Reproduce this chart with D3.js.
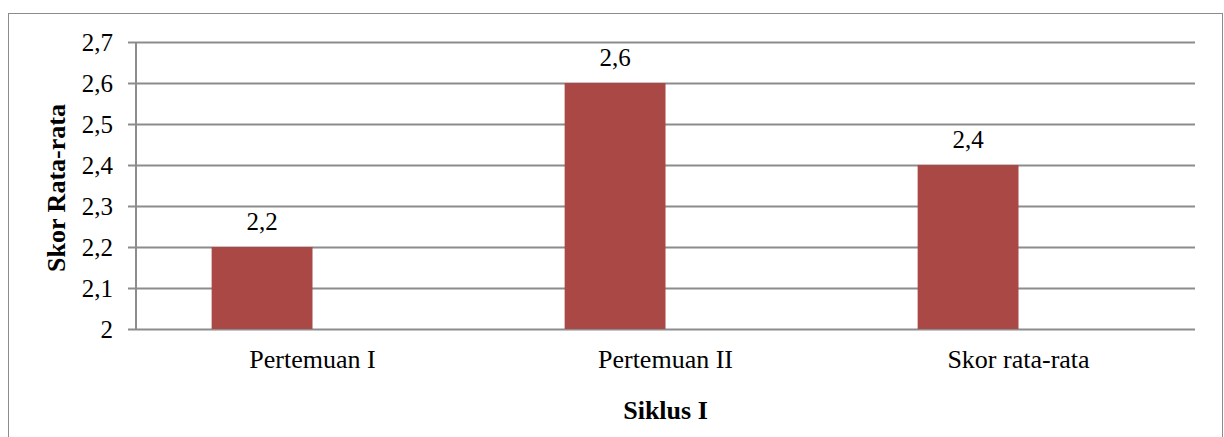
<!DOCTYPE html>
<html><head><meta charset="utf-8">
<script src="https://cdn.jsdelivr.net/npm/d3@7"></script>
<style>body{margin:0;background:#fff}svg{display:block}text{font-family:"Liberation Serif","Times New Roman",serif;fill:#000}</style>
</head><body>
<script>
const categories = ["Pertemuan I", "Pertemuan II", "Skor rata-rata"];
const values = [2.2, 2.6, 2.4];
const valueLabels = ["2,2", "2,6", "2,4"];
const yTicks = [2, 2.1, 2.2, 2.3, 2.4, 2.5, 2.6, 2.7];
const yTickLabels = ["2", "2,1", "2,2", "2,3", "2,4", "2,5", "2,6", "2,7"];
const xTitle = "Siklus I";
const yTitle = "Skor Rata-rata";

const W = 1224, H = 437;
const svg = d3.select("body").append("svg").attr("width", W).attr("height", H);
svg.append("rect").attr("x", 8.5).attr("y", 13.5).attr("width", 1214).attr("height", 440)
  .attr("fill", "#fff").attr("stroke", "#8c8c8c").attr("stroke-width", 1);

const L = 136, R = 1195, T = 42, B = 329;
const x = d3.scaleBand().domain(categories).range([L, R]);
const y = d3.scaleLinear().domain([2, 2.7]).range([B, T]);
// two-series layout (second empty): gap width 150%
const bw = x.bandwidth() / 3.5;
const off = x.bandwidth() * 0.75 / 3.5;

const g = svg.append("g");
g.selectAll("line.grid").data(yTicks).enter().append("line")
  .attr("x1", L - 8).attr("x2", R).attr("y1", d => Math.round(y(d)) + 0.5).attr("y2", d => Math.round(y(d)) + 0.5)
  .attr("stroke", "#8c8c8c").attr("stroke-width", 2);
g.append("line").attr("x1", L).attr("x2", L).attr("y1", T).attr("y2", B + 1)
  .attr("stroke", "#8c8c8c").attr("stroke-width", 2);

g.selectAll("text.yt").data(yTicks).enter().append("text")
  .attr("x", 113).attr("y", d => y(d)).attr("dy", "0.35em").attr("text-anchor", "end")
  .attr("font-size", 25).text((d, i) => yTickLabels[i]);

g.selectAll("rect.bar").data(values).enter().append("rect")
  .attr("x", (d, i) => x(categories[i]) + off).attr("width", bw)
  .attr("y", d => y(d)).attr("height", d => y(2) - y(d))
  .attr("fill", "#a94845");

g.selectAll("text.vl").data(values).enter().append("text")
  .attr("x", (d, i) => x(categories[i]) + off + bw / 2).attr("y", d => y(d) - 17)
  .attr("text-anchor", "middle").attr("font-size", 25).text((d, i) => valueLabels[i]);

g.selectAll("text.xl").data(categories).enter().append("text")
  .attr("x", d => x(d) + x.bandwidth() / 2).attr("y", 368)
  .attr("text-anchor", "middle").attr("font-size", 26).text(d => d);

svg.append("text").attr("x", (L + R) / 2).attr("y", 419).attr("text-anchor", "middle")
  .attr("font-size", 26).attr("font-weight", "bold").text(xTitle);
svg.append("text").attr("transform", "translate(65,188) rotate(-90)").attr("text-anchor", "middle")
  .attr("font-size", 26).attr("font-weight", "bold").text(yTitle);
</script>
</body></html>
